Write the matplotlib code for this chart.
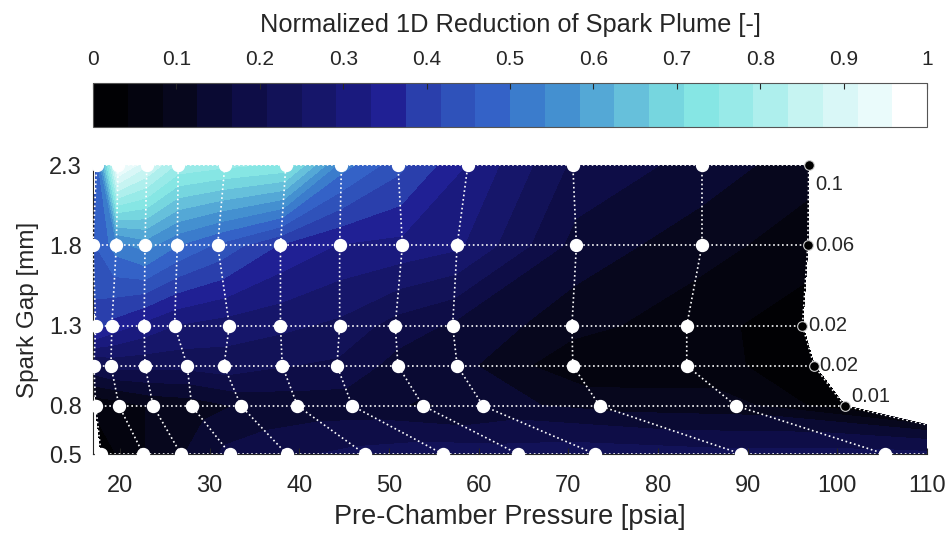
import numpy as np
import matplotlib
matplotlib.use("Agg")
import matplotlib.pyplot as plt
from matplotlib.colors import ListedColormap

plt.rcParams['font.family'] = ['Liberation Sans', 'DejaVu Sans']

# Spark gap rows [mm], bottom to top
gap_mm = [0.5, 0.8, 1.05, 1.3, 1.8, 2.3]

# Pre-chamber pressure at each measurement node [psia], one list per gap row
pressure_g050 = [17.9, 22.6, 26.8, 32.3, 38.6, 47.3, 56.0, 64.4, 73.0, 89.3, 105.3, 124.1]
pressure_g080 = [17.3, 19.9, 23.7, 28.0, 33.5, 39.8, 45.9, 53.8, 60.5, 73.5, 88.7, 100.8]
pressure_g105 = [17.1, 19.0, 22.8, 27.5, 31.6, 38.1, 44.2, 51.0, 57.6, 70.5, 83.2, 97.4]
pressure_g130 = [17.3, 19.1, 22.7, 26.1, 32.2, 37.9, 44.5, 50.7, 57.1, 70.4, 83.2, 96.1]
pressure_g180 = [17.0, 19.6, 22.8, 26.4, 30.9, 37.9, 44.5, 51.5, 57.6, 70.9, 84.9, 96.7]
pressure_g230 = [17.4, 19.8, 23.0, 26.5, 31.7, 38.5, 44.7, 51.0, 58.8, 70.5, 84.9, 96.8]

# Normalized 1D reduction of spark plume at each node
plume_g050 = [0.02, 0.08, 0.12, 0.18, 0.20, 0.22, 0.23, 0.23, 0.23, 0.22, 0.22, 0.20]
plume_g080 = [0.05, 0.06, 0.09, 0.10, 0.13, 0.14, 0.14, 0.12, 0.14, 0.11, 0.10, 0.01]
plume_g105 = [0.20, 0.22, 0.22, 0.22, 0.23, 0.21, 0.20, 0.15, 0.14, 0.05, 0.06, 0.02]
plume_g130 = [0.40, 0.36, 0.32, 0.29, 0.27, 0.26, 0.24, 0.19, 0.16, 0.10, 0.06, 0.02]
plume_g180 = [0.45, 0.52, 0.56, 0.50, 0.45, 0.37, 0.33, 0.32, 0.30, 0.15, 0.10, 0.06]
plume_g230 = [0.45, 0.98, 0.88, 0.78, 0.76, 0.74, 0.52, 0.43, 0.33, 0.20, 0.15, 0.10]

# Values printed beside the highest-pressure node of each row (bottom to top, 0.5 mm row omitted)
edge_labels = ['0.01', '0.02', '0.02', '0.06', '0.1']
edge_label_offsets = [(5, 7), (4, 0), (4, 0), (5, 0), (5, -14)]  # points

x_ticks = [20, 30, 40, 50, 60, 70, 80, 90, 100, 110]
y_ticks = [0.5, 0.8, 1.3, 1.8, 2.3]
cbar_ticks = [0, 0.1, 0.2, 0.3, 0.4, 0.5, 0.6, 0.7, 0.8, 0.9, 1.0]
cbar_tick_labels = ['0', '0.1', '0.2', '0.3', '0.4', '0.5', '0.6', '0.7', '0.8', '0.9', '1']

level_colors = [
    '#010104', '#04040f', '#07071d', '#0a0a33', '#0e0d47', '#121258',
    '#16166a', '#1a1a7e', '#202094', '#2a3fac', '#2f52ba', '#3462c7',
    '#3b7ccc', '#4490d0', '#54a8d6', '#66c0db', '#76d6df', '#86e6e4',
    '#98eae8', '#aeefed', '#c6f4f2', '#d9f7f7', '#eafbfb', '#ffffff',
]

P = np.array([pressure_g050, pressure_g080, pressure_g105,
              pressure_g130, pressure_g180, pressure_g230])
Z = np.array([plume_g050, plume_g080, plume_g105,
              plume_g130, plume_g180, plume_g230])
G = np.repeat(np.array(gap_mm)[:, None], P.shape[1], axis=1)

text_color = '#262626'
cmap = ListedColormap(level_colors)
levels = np.linspace(0, 1, len(level_colors) + 1)

fig = plt.figure(figsize=(9.5, 5.33), dpi=100)
ax = fig.add_axes([0.0979, 0.1482, 0.878, 0.5422])
cax = fig.add_axes([0.0979, 0.7617, 0.878, 0.0826])

cs = ax.contourf(P, G, Z, levels=levels, cmap=cmap, vmin=0, vmax=1)
cs.set_edgecolor('face')
cs.set_linewidth(0.4)

# Mesh of measurement nodes: dotted rows and columns
for i in range(P.shape[0]):
    ax.plot(P[i], G[i], ':', color='white', lw=1.2, zorder=3)
for j in range(P.shape[1]):
    ax.plot(P[:, j], G[:, j], ':', color='white', lw=1.2, zorder=3)
ax.plot(P[:, :-1].ravel(), G[:, :-1].ravel(), 'o', color='white', ms=8.6,
        mec='white', zorder=4, clip_on=False)
ax.plot(P[:, -1], G[:, -1], 'o', color='black', ms=7.0, mec='#d0d0d0',
        mew=0.8, zorder=4, clip_on=False)

for k, lab in enumerate(edge_labels):
    row = k + 1
    ax.annotate(lab, (P[row, -1], G[row, -1]), xytext=edge_label_offsets[k],
                textcoords='offset points', ha='left', va='center',
                fontsize=14.5, color=text_color, annotation_clip=False)

ax.set_xlim(17.0, 110)
ax.set_ylim(0.5, 2.3)
ax.set_xticks(x_ticks)
ax.set_yticks(y_ticks)
ax.set_yticklabels([f'{v:g}' for v in y_ticks])
ax.spines['top'].set_visible(False)
ax.spines['right'].set_visible(False)
for s in ('left', 'bottom'):
    ax.spines[s].set_color(text_color)
    ax.spines[s].set_linewidth(0.8)
ax.tick_params(direction='in', length=4, width=0.8, colors=text_color,
               labelsize=17)
ax.tick_params(axis='x', pad=15)
ax.tick_params(axis='y', pad=8)
ax.set_xlabel('Pre-Chamber Pressure [psia]', fontsize=19.5, color=text_color, labelpad=5)
ax.set_ylabel('Spark Gap [mm]', fontsize=17.5, color=text_color, labelpad=7)

cb = fig.colorbar(cs, cax=cax, orientation='horizontal')
cb.set_ticks(cbar_ticks)
cb.set_ticklabels(cbar_tick_labels)
cax.xaxis.set_ticks_position('top')
cax.xaxis.set_label_position('top')
cax.tick_params(direction='in', length=4, width=0.8, colors=text_color,
                labelsize=15, pad=10)
cb.outline.set_edgecolor('#555555')
cb.outline.set_linewidth(0.8)
cb.set_label('Normalized 1D Reduction of Spark Plume [-]', fontsize=18.3,
             color=text_color, labelpad=13)

fig.savefig('out.png', dpi=100)
